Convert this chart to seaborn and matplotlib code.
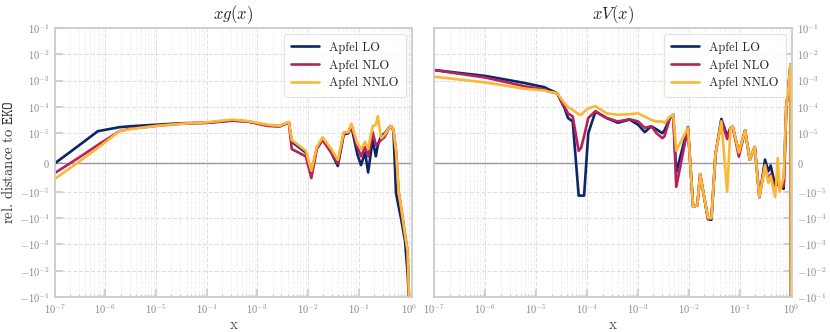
import numpy as np
import pandas as pd
import seaborn as sns
import matplotlib.pyplot as plt
from matplotlib.ticker import NullLocator, LogLocator

orders = ['Apfel LO', 'Apfel NLO', 'Apfel NNLO']
palette = ['#0b2566', '#b5225c', '#fdb735']
titles = ['$xg(x)$', '$xV(x)$']

# xg(x) panel
x_g = [1.0e-7, 3.2e-7, 7.1e-7, 1.9e-6, 3.2e-6, 1.0e-5, 3.2e-5, 1.0e-4, 3.2e-4, 6.5e-4,
       1.6e-3, 2.75e-3, 4.2e-3, 4.8e-3, 9.1e-3, 1.17e-2, 1.5e-2, 1.95e-2, 2.9e-2, 3.9e-2,
       5.1e-2, 6.3e-2, 7.2e-2, 9.5e-2, 0.112, 0.135, 0.155, 0.19, 0.22, 0.24,
       0.28, 0.33, 0.40, 0.44, 0.49, 0.55, 0.62, 0.69, 0.83, 0.93, 1.0]
g_lo = [-3e-7, 6.2e-6, 1.2e-5, 1.7e-5, 1.85e-5, 2.1e-5, 2.4e-5, 2.5e-5, 3.0e-5, 2.8e-5,
        2.0e-5, 1.85e-5, 2.6e-5, 7.1e-6, 3.4e-6, -4.0e-6, 5.0e-6, 8.0e-6, 3.4e-6, -1.2e-6,
        9.6e-6, 1.0e-5, 1.9e-5, 2.8e-6, -9e-7, 3.4e-6, -3.4e-6, 7.7e-6, 2.1e-6, 5.9e-6,
        9e-6, 1.0e-5, 1.6e-5, 1.85e-5, 1.2e-5, -1.1e-5, -3.7e-5, -1e-4, -7.4e-4, -1.2e-2, -0.15]
g_nlo = [-3.6e-6, 2e-6, 6e-6, 1.2e-5, 1.5e-5, 1.9e-5, 2.3e-5, 2.5e-5, 3.1e-5, 2.8e-5,
         1.9e-5, 1.8e-5, 2.6e-5, 4.6e-6, 2.1e-6, -5.3e-6, 4.6e-6, 7.7e-6, 3.4e-6, -3e-7,
         1.0e-5, 1.05e-5, 2.1e-5, 5.3e-6, 2.1e-6, 5.3e-6, 2.1e-6, 1.1e-5, 5.9e-6, 6.5e-6,
         7.7e-6, 8.8e-6, 1.6e-5, 1.85e-5, 1.3e-5, 4e-6, -1e-5, -3.7e-5, -4.3e-4, -1.7e-3, -0.15]
g_nnlo = [-5.6e-6, 6e-7, 5e-6, 1.2e-5, 1.45e-5, 1.9e-5, 2.3e-5, 2.6e-5, 3.3e-5, 2.9e-5,
          2.1e-5, 1.9e-5, 2.7e-5, 7.7e-6, 4.0e-6, -2.8e-6, 5.3e-6, 8.6e-6, 4.6e-6, 9e-7,
          1.1e-5, 1.1e-5, 2.3e-5, 6.5e-6, 4.6e-6, 7.1e-6, 4.6e-6, 1.85e-5, 2.1e-5, 4.5e-5,
          8.3e-6, 9.6e-6, 1.6e-5, 1.85e-5, 1.3e-5, 4e-6, -1e-5, -3.7e-5, -4.3e-4, -1.7e-3, -0.15]

# xV(x) panel
x_v = [1.0e-7, 1.0e-6, 5.9e-6, 1.45e-5, 1.8e-5, 2.1e-5, 2.6e-5, 3.6e-5, 4.2e-5, 5.2e-5,
       6.8e-5, 7.6e-5, 8.7e-5, 1.05e-4, 1.45e-4, 2.4e-4, 4.0e-4, 6.8e-4, 1.0e-3, 1.35e-3,
       1.8e-3, 2.3e-3, 3.0e-3, 3.3e-3, 4.2e-3, 4.9e-3, 5.6e-3, 9.5e-3, 1.2e-2, 1.45e-2,
       1.65e-2, 2.35e-2, 2.75e-2, 3.3e-2, 4.3e-2, 5.6e-2, 6.5e-2, 7.2e-2, 9.5e-2, 0.126,
       0.155, 0.195, 0.24, 0.31, 0.36, 0.40, 0.49, 0.55, 0.60, 0.72,
       0.81, 0.89, 0.98, 1.0]
v_lo = [2.5e-3, 1.5e-3, 8.1e-4, 5.6e-4, 4.5e-4, 4.0e-4, 3.2e-4, 8.8e-5, 3.8e-5, 2.8e-5,
        -1.4e-5, -1.4e-5, -1.4e-5, 1.0e-5, 6.6e-5, 3.8e-5, 2.5e-5, 3.3e-5, 2.1e-5, 1.1e-5,
        1.85e-5, 1.4e-5, 1.0e-5, 1.3e-5, 3.8e-5, 5.0e-5, -3.4e-6, 1.7e-5, -3.7e-5, -3.3e-5,
        -4e-6, -1.1e-4, -1.15e-4, 2.8e-6, 3.5e-5, 9e-6, 1.6e-5, 1.75e-5, 3.4e-6, 1.3e-5,
        1e-6, 5.3e-6, -1.6e-5, 1e-6, -3e-6, -1e-6, -8e-6, -7e-6, -8e-6, -9e-6,
        1e-4, 5e-4, 4e-3, -0.15]
v_nlo = [2.5e-3, 1.3e-3, 6.1e-4, 4.6e-4, 3.8e-4, 3.6e-4, 3.2e-4, 1.0e-4, 5.7e-5, 4.3e-5,
         4e-6, 5e-6, 9e-6, 3.8e-5, 6.9e-5, 3.8e-5, 2.8e-5, 3.4e-5, 2.8e-5, 1.6e-5,
         1.85e-5, 1.0e-5, 8.3e-6, 9e-6, 3.8e-5, 5.0e-5, -8.3e-6, 1.6e-5, -3.7e-5, -3.3e-5,
         -4e-6, -1e-4, -1e-4, 2.8e-6, 3.0e-5, 8e-6, 1.6e-5, 1.75e-5, 2e-6, 1.3e-5,
         1e-6, 5.3e-6, -1.6e-5, -9e-7, -6e-6, -4e-6, -1e-5, -5e-6, -9e-6, -8e-6,
         1e-4, 5e-4, 4e-3, -0.15]
v_nnlo = [1.4e-3, 8.5e-4, 4.9e-4, 4.2e-4, 3.7e-4, 3.6e-4, 3.2e-4, 1.35e-4, 1.0e-4, 7.6e-5,
          5.3e-5, 5.0e-5, 6.5e-5, 8.8e-5, 1.07e-4, 5.7e-5, 5.0e-5, 5.3e-5, 5.7e-5, 4.3e-5,
          3.2e-5, 2.8e-5, 2.8e-5, 2.5e-5, 4.3e-5, 5.0e-5, 4e-6, 1.6e-5, -3.7e-5, -3.3e-5,
          -4e-6, -1e-4, -1e-4, 2.8e-6, 2.8e-5, -1.0e-5, 1.6e-5, 1.75e-5, 3.4e-6, 1.3e-5,
          1e-6, 5.3e-6, -1.6e-5, -9e-7, -7e-6, -4.6e-6, -1.6e-5, 1.5e-6, -1e-5, -5e-6,
          1e-4, 5e-4, 4e-3, -0.15]


def long_df(x, series):
    frames = []
    for name, vals in zip(orders, series):
        frames.append(pd.DataFrame({'x': x, 'diff': vals, 'order': name}))
    return pd.concat(frames, ignore_index=True)


sns.set_theme(style='ticks')
plt.rcParams['font.family'] = ['serif']
plt.rcParams['font.serif'] = ['cmr10', 'DejaVu Serif']
plt.rcParams['mathtext.fontset'] = 'cm'
plt.rcParams['axes.formatter.use_mathtext'] = True

fig, axes = plt.subplots(1, 2, figsize=(8.3, 3.32), dpi=100)
fig.subplots_adjust(left=0.066, right=0.954, top=0.916, bottom=0.105, wspace=0.062)

data = [long_df(x_g, [g_lo, g_nlo, g_nnlo]), long_df(x_v, [v_lo, v_nlo, v_nnlo])]
xmax = [1.15, 1.04]

for i, ax in enumerate(axes):
    sns.lineplot(data=data[i], x='x', y='diff', hue='order', hue_order=orders,
                 palette=palette, estimator=None, sort=False, linewidth=1.9, ax=ax)
    ax.set_xscale('log')
    ax.set_yscale('symlog', linthresh=1e-5, linscale=1)
    ax.set_xlim(1e-7, xmax[i])
    ax.set_ylim(-1e-1, 1e-1)
    ax.axhline(0, color='#999999', lw=1.0, zorder=1)
    ax.xaxis.set_major_locator(LogLocator(base=10, numticks=10))
    ax.xaxis.set_minor_locator(LogLocator(base=10, subs=np.arange(2, 10), numticks=100))
    ax.yaxis.set_minor_locator(NullLocator())
    ax.grid(True, which='major', ls='--', color='#e0e0e0', lw=0.8)
    ax.grid(True, which='minor', axis='x', ls='--', color='#efefef', lw=0.6)
    ax.set_axisbelow(True)
    for s in ax.spines.values():
        s.set_color('#cccccc')
        s.set_linewidth(1.3)
    ax.tick_params(which='both', direction='in', colors='#cccccc', labelcolor='#888888',
                   labelsize=7.5)
    ax.tick_params(which='minor', length=2.5)
    ax.set_title(titles[i], fontsize=12, pad=6)
    ax.set_xlabel('x', fontsize=11, color='#555555', labelpad=2)
    leg = ax.legend(loc='upper right', fontsize=9, frameon=True, borderpad=0.6,
                    handlelength=2.2, labelspacing=0.45)
    leg.get_frame().set_edgecolor('#dddddd')
    leg.get_frame().set_linewidth(0.8)
    for line in leg.get_lines():
        line.set_linewidth(1.9)

axes[0].set_ylabel('rel. distance to $\\mathtt{EKO}$', fontsize=10.5, color='#333333',
                   labelpad=3)
axes[1].set_ylabel('')
axes[1].yaxis.tick_right()
axes[1].tick_params(which='both', direction='in', labelright=True, labelleft=False)

fig.savefig('out.png', dpi=100)
